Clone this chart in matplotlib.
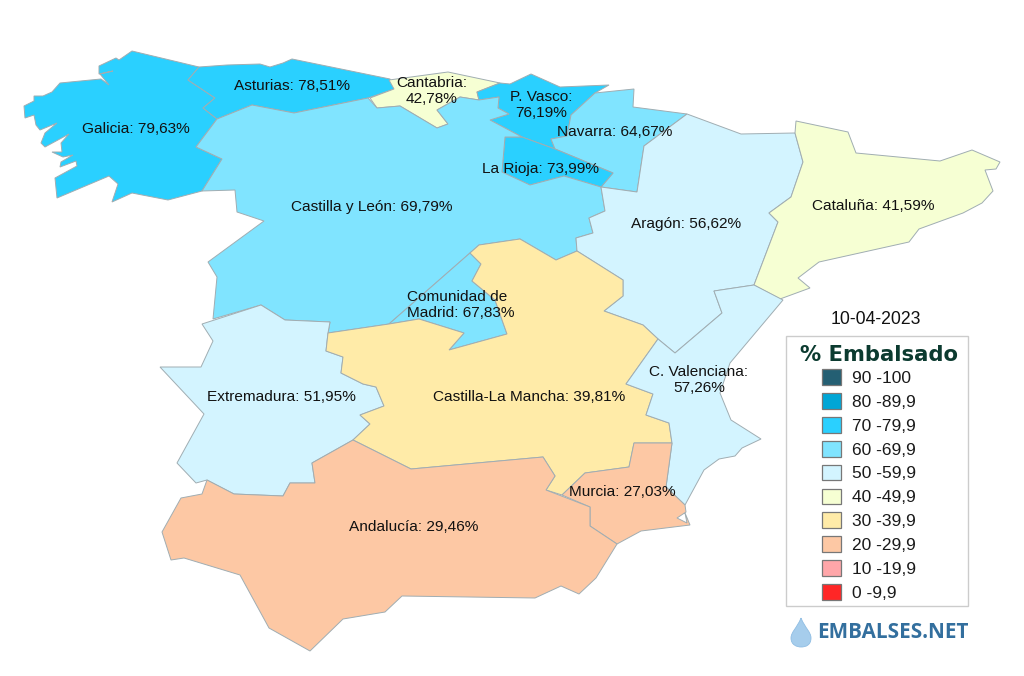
import matplotlib
matplotlib.use("Agg")
import matplotlib.pyplot as plt
from matplotlib.patches import Polygon, Patch, PathPatch, Rectangle
from matplotlib.path import Path

plt.rcParams['font.family'] = ['Liberation Sans', 'DejaVu Sans']

DATE = "10-04-2023"
LEGEND_TITLE = "% Embalsado"
BRAND = "EMBALSES.NET"
bin_labels = ["90 -100", "80 -89,9", "70 -79,9", "60 -69,9", "50 -59,9",
              "40 -49,9", "30 -39,9", "20 -29,9", "10 -19,9", "0 -9,9"]
bin_floors = [90, 80, 70, 60, 50, 40, 30, 20, 10, 0]
bin_colors = ["#245f73", "#00a6d6", "#2ad0ff", "#80e4ff", "#d3f4ff",
              "#f6ffd3", "#ffeba8", "#fdc8a4", "#ffa6a9", "#ff2626"]

regions = ["Galicia", "Asturias", "Cantabria", "P. Vasco", "Navarra", "La Rioja",
           "Castilla y León", "Aragón", "Cataluña", "Comunidad de Madrid",
           "Extremadura", "Castilla-La Mancha", "C. Valenciana", "Murcia", "Andalucía"]
values = [79.63, 78.51, 42.78, 76.19, 64.67, 73.99, 69.79, 56.62, 41.59, 67.83,
          51.95, 39.81, 57.26, 27.03, 29.46]

# Region outlines in image pixels
outlines = {
    "Galicia": [(132,51),(199,67),(188,80),(215,98),(203,108),(217,119),(196,147),(222,159),(202,191),
                (168,200),(132,193),(112,202),(118,184),(109,176),(57,198),(55,178),(77,166),(76,161),
                (60,167),(61,162),(73,155),(63,157),(52,152),(62,152),(61,143),(69,134),(45,147),(41,143),
                (45,133),(57,123),(40,130),(36,125),(34,115),(25,118),(24,106),(34,101),(34,96),(43,96),
                (52,92),(60,83),(101,79),(109,85),(100,74),(113,71),(99,74),(99,66),(116,58),(119,60)],
    "Asturias": [(199,67),(227,65),(260,64),(270,67),(283,63),(292,59),(390,79),(394,89),(368,98),
                 (294,113),(252,105),(217,119),(203,108),(215,98),(188,80)],
    "Cantabria": [(370,98),(377,108),(400,106),(437,128),(448,124),(437,110),(460,97),(479,100),(477,92),
                  (500,83),(448,72),(389,80),(394,89)],
    "P. Vasco": [(477,92),(500,83),(510,84),(531,74),(560,87),(609,85),(595,93),(571,115),(567,136),
                 (551,139),(555,149),(522,137),(490,120),(509,114),(498,108),(499,97),(479,100)],
    "Navarra": [(595,93),(634,89),(633,107),(687,114),(644,146),(637,192),(601,187),(613,173),(555,149),
                (551,139),(567,136),(571,115)],
    "La Rioja": [(505,137),(522,137),(555,149),(613,173),(601,187),(564,176),(530,185),(502,172)],
    "Castilla y León": [(217,119),(252,105),(294,113),(368,98),(377,108),(400,106),(437,128),(448,124),
                        (437,110),(460,97),(479,100),(499,97),(498,108),(509,114),(490,120),(522,137),
                        (505,137),(502,172),(530,185),(564,176),(601,187),(605,211),(589,218),(593,233),
                        (576,238),(577,251),(556,260),(520,239),(479,245),(470,253),(389,324),(328,333),
                        (330,322),(285,320),(261,305),(213,319),(217,277),(208,262),(264,221),(237,212),
                        (235,190),(202,191),(222,159),(196,147)],
    "Aragón": [(687,114),(741,134),(795,133),(803,162),(791,197),(769,213),(778,222),(754,285),(714,291),
               (722,313),(675,353),(658,339),(643,325),(604,311),(623,296),(623,280),(577,251),(576,238),
               (593,233),(589,218),(605,211),(601,187),(637,192),(644,146)],
    "Cataluña": [(796,121),(848,132),(856,153),(940,161),(972,150),(1000,162),(996,169),(985,170),(993,191),
                 (982,203),(963,213),(919,229),(909,242),(819,262),(798,278),(810,288),(780,299),(754,285),
                 (778,222),(769,213),(791,197),(803,162),(795,133)],
    "Comunidad de Madrid": [(470,253),(481,264),(472,281),(495,300),(507,334),(449,350),(464,333),(419,319),(389,324)],
    "Extremadura": [(202,324),(261,305),(285,320),(330,322),(328,333),(326,351),(343,357),(341,373),(363,384),
                    (376,387),(384,406),(360,415),(370,424),(353,440),(312,463),(315,483),(290,483),(283,496),
                    (234,494),(207,480),(196,483),(177,463),(204,414),(160,367),(201,367),(213,341)],
    "Castilla-La Mancha": [(328,333),(389,324),(419,319),(464,333),(449,350),(507,334),(495,300),(472,281),
                           (481,264),(470,253),(479,245),(520,239),(556,260),(577,251),(623,280),(623,296),
                           (604,311),(643,325),(658,339),(626,384),(653,394),(646,415),(669,423),(672,443),
                           (634,443),(629,467),(585,473),(562,495),(546,490),(555,476),(543,457),(411,469),
                           (353,440),(370,424),(360,415),(384,406),(376,387),(363,384),(341,373),(343,357),(326,351)],
    "C. Valenciana": [(714,291),(754,285),(783,300),(730,363),(720,393),(731,420),(761,439),(742,448),(735,456),
                      (719,459),(704,470),(685,505),(666,487),(672,443),(669,423),(646,415),(653,394),(626,384),
                      (658,339),(675,353),(722,313)],
    "Murcia": [(634,443),(672,443),(666,487),(685,505),(686,512),(677,518),(687,523),(685,513),(690,525),
               (641,531),(617,544),(590,526),(590,507),(562,495),(585,473),(629,467)],
    "Andalucía": [(353,440),(411,469),(543,457),(555,476),(546,490),(590,507),(590,526),(617,544),(596,578),
                  (579,594),(561,586),(535,598),(402,596),(385,612),(343,619),(310,651),(269,628),(240,575),
                  (184,558),(171,560),(162,532),(181,498),(202,494),(207,480),(234,494),(283,496),(290,483),
                  (315,483),(312,463)],
}

label_anchor = {
    "Galicia": (136,129), "Asturias": (292,86), "Cantabria": (432,91), "P. Vasco": (541,105),
    "Navarra": (615,132), "La Rioja": (540,169), "Castilla y León": (372,207), "Aragón": (686,224),
    "Cataluña": (873,206), "Comunidad de Madrid": (407,305), "Extremadura": (281,397),
    "Castilla-La Mancha": (529,397), "C. Valenciana": (699,380), "Murcia": (622,492), "Andalucía": (414,527),
}
two_line = {"Cantabria", "P. Vasco", "C. Valenciana"}


def fmt(v):
    return f"{v:.2f}".replace(".", ",") + "%"


def color_for(v):
    for floor, c in zip(bin_floors, bin_colors):
        if v >= floor:
            return c
    return bin_colors[-1]


fig = plt.figure(figsize=(10.24, 6.76), dpi=100)
ax = fig.add_axes([0, 0, 1, 1])
ax.set_xlim(0, 1024)
ax.set_ylim(676, 0)
ax.axis("off")

FS = 11.1
LS = 1.19
for name, v in zip(regions, values):
    ax.add_patch(Polygon(outlines[name], closed=True, facecolor=color_for(v),
                         edgecolor="#a0adb2", linewidth=0.7, joinstyle="miter", zorder=2))
for name, v in zip(regions, values):
    x, y = label_anchor[name]
    if name == "Comunidad de Madrid":
        ax.text(x, y, f"Comunidad de\nMadrid: {fmt(v)}", ha="left", va="center",
                fontsize=FS, color="#111111", linespacing=LS, zorder=5)
    elif name in two_line:
        ax.text(x, y, f"{name}:\n{fmt(v)}", ha="center", va="center", multialignment="center",
                fontsize=FS, color="#111111", linespacing=LS, zorder=5)
    else:
        ax.text(x, y, f"{name}: {fmt(v)}", ha="center", va="center",
                fontsize=FS, color="#111111", zorder=5)

ax.text(876, 320, DATE, ha="center", va="center", fontsize=12.7, color="#111111")

# Legend box, title and rows
ax.add_patch(Rectangle((786, 336), 182, 270, facecolor="white", edgecolor="#cccccc", linewidth=1.0, zorder=3))
ax.text(879, 355, LEGEND_TITLE, ha="center", va="center", family="DejaVu Sans", fontweight="bold",
        fontsize=15.2, color="#0c3b30", zorder=4)
handles = [Patch(facecolor=c, edgecolor="#777777", linewidth=0.9) for c in bin_colors]
leg = ax.legend(handles, bin_labels, loc="upper left", bbox_to_anchor=(822, 369),
                bbox_transform=ax.transData, fontsize=12.5, frameon=False, borderaxespad=0,
                handlelength=1.09, handleheight=1.03, handletextpad=0.63,
                labelspacing=0.405, borderpad=0)
leg.set_zorder(4)
for t in leg.get_texts():
    t.set_color("#1a1a1a")

# Brand mark: water drop and wordmark
drop = Path([(801,618),(797,628),(791,632),(791,638),(791,645),(797,647),(801,647),(806,647),(811,645),(811,638),(811,632),(805,628),(801,618)],
            [Path.MOVETO]+[Path.CURVE4]*12)
ax.add_patch(PathPatch(drop, facecolor="#a6cdec", edgecolor="#8fbde3", linewidth=0.6))
ax.text(817, 633, BRAND, ha="left", va="center", fontsize=14.9, fontweight="bold",
        family="Open Sans", color="#336f9e")

fig.savefig("out.png", dpi=100, facecolor="white")
